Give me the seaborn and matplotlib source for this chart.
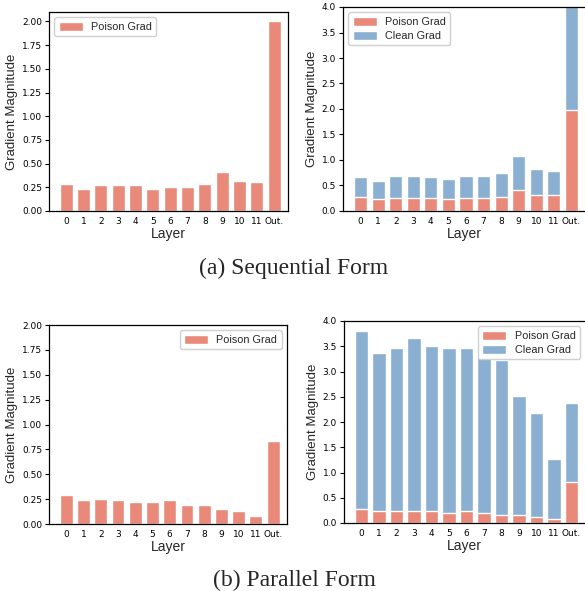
import matplotlib
matplotlib.use("Agg")
import matplotlib.pyplot as plt
import seaborn as sns

# Datos
capas = ["0", "1", "2", "3", "4", "5", "6", "7", "8", "9", "10", "11", "Out."]

seq_poison_solo = [0.29, 0.23, 0.27, 0.27, 0.27, 0.23, 0.25, 0.25, 0.29, 0.41, 0.32, 0.31, 2.00]
seq_poison = [0.27, 0.23, 0.25, 0.25, 0.25, 0.23, 0.25, 0.25, 0.27, 0.41, 0.31, 0.31, 1.99]
seq_total = [0.66, 0.58, 0.68, 0.68, 0.66, 0.62, 0.68, 0.68, 0.74, 1.08, 0.82, 0.78, 4.10]

par_poison_solo = [0.29, 0.24, 0.25, 0.24, 0.22, 0.22, 0.24, 0.19, 0.19, 0.15, 0.13, 0.08, 0.83]
par_poison = [0.28, 0.23, 0.24, 0.23, 0.23, 0.20, 0.24, 0.19, 0.16, 0.15, 0.12, 0.07, 0.82]
par_total = [3.80, 3.37, 3.47, 3.66, 3.51, 3.47, 3.47, 3.72, 3.23, 2.52, 2.18, 1.27, 2.38]

COLOR_POISON = "#E9897A"
COLOR_CLEAN = "#8AAFD0"
FUENTE = "Liberation Sans"

sns.set_style("ticks")
plt.rcParams["font.family"] = ["DejaVu Sans"]

W, H = 585, 591
fig = plt.figure(figsize=(W / 100, H / 100), dpi=100)


def caja(x0, y0, x1, y1):
    return [x0 / W, 1 - y1 / H, (x1 - x0) / W, (y1 - y0) / H]


def dibujar(ax, poison, total, ymax, ticks, fmt, loc):
    if total is not None:
        sns.barplot(x=capas, y=total, color=COLOR_CLEAN, width=0.75,
                    saturation=1, label="Clean Grad", ax=ax)
    sns.barplot(x=capas, y=poison, color=COLOR_POISON, width=0.75,
                saturation=1, label="Poison Grad", ax=ax)
    ax.set_xlim(-1, 12.8)
    ax.set_ylim(0, ymax)
    ax.set_yticks(ticks)
    ax.set_yticklabels([fmt.format(t) for t in ticks])
    ax.tick_params(axis="both", labelsize=6.5, colors="black")
    ax.tick_params(axis="x", length=0, pad=4)
    ax.tick_params(axis="y", length=3, width=0.8, pad=2)
    ax.set_xlabel("Layer", fontsize=10, family=FUENTE, labelpad=1)
    ax.set_ylabel("Gradient Magnitude", fontsize=9.5, family=FUENTE, labelpad=3)
    for s in ax.spines.values():
        s.set_linewidth(0.9)
        s.set_color("black")
    handles, labels = ax.get_legend_handles_labels()
    orden = sorted(range(len(labels)), key=lambda i: labels[i] != "Poison Grad")
    ax.legend([handles[i] for i in orden], [labels[i] for i in orden], loc=loc,
              prop={"family": FUENTE, "size": 7.8}, handlelength=2.2,
              handleheight=0.9, borderpad=0.4, labelspacing=0.35,
              framealpha=1, edgecolor="#d0d0d0", fancybox=True)


ticks2 = [0, 0.25, 0.5, 0.75, 1.0, 1.25, 1.5, 1.75, 2.0]
ticks4 = [0, 0.5, 1.0, 1.5, 2.0, 2.5, 3.0, 3.5, 4.0]

ax1 = fig.add_axes(caja(49, 12, 288, 211))
dibujar(ax1, seq_poison_solo, None, 2.1, ticks2, "{:.2f}", "upper left")

ax2 = fig.add_axes(caja(343, 7, 585.5, 211))
dibujar(ax2, seq_poison, seq_total, 4.0, ticks4, "{:.1f}", "upper left")

ax3 = fig.add_axes(caja(49, 325, 287, 524))
dibujar(ax3, par_poison_solo, None, 2.0, ticks2, "{:.2f}", "upper right")

ax4 = fig.add_axes(caja(344, 321, 585.5, 523))
dibujar(ax4, par_poison, par_total, 4.0, ticks4, "{:.1f}", "upper right")

fig.text(294 / W, 1 - 268 / H, "(a) Sequential Form", ha="center", va="center",
         fontsize=17, family="Liberation Serif")
fig.text(294 / W, 1 - 580 / H, "(b) Parallel Form", ha="center", va="center",
         fontsize=17, family="Liberation Serif")

fig.savefig("out.png", dpi=100)
